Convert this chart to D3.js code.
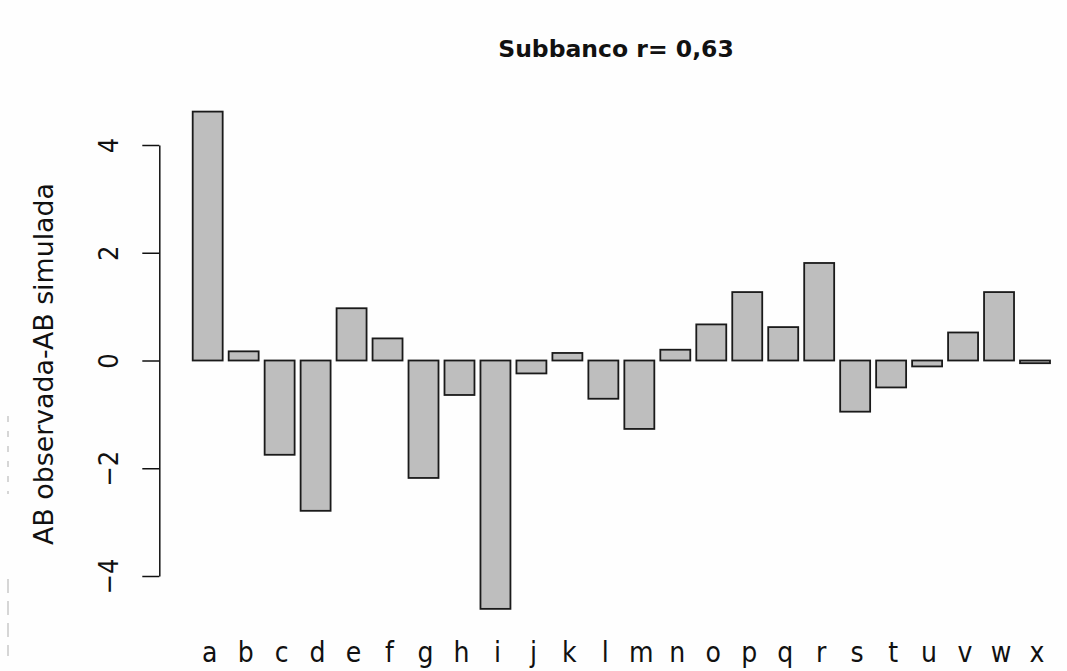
<!DOCTYPE html>
<html>
<head>
<meta charset="utf-8">
<script src="https://cdn.jsdelivr.net/npm/d3@7"></script>
<style>
  html, body { margin: 0; padding: 0; background: #fefefe; }
  svg { display: block; }
  .lbl { font-family: "Liberation Sans Narrow", "DejaVu Sans Condensed", "Roboto", sans-serif; fill: #111; }
</style>
</head>
<body>
<svg id="chart" width="1067" height="671"></svg>
<script>
// Observed minus simulated AB, one bar per category
const categories = ["a","b","c","d","e","f","g","h","i","j","k","l","m","n","o","p","q","r","s","t","u","v","w","x"];
const differences = [4.62, 0.17, -1.75, -2.79, 0.97, 0.41, -2.18, -0.64, -4.61, -0.24, 0.14, -0.71,
                     -1.27, 0.20, 0.67, 1.27, 0.62, 1.81, -0.95, -0.50, -0.11, 0.52, 1.27, -0.05];
const yTicks = [-4, -2, 0, 2, 4];
const titleText = "Subbanco r= 0,63";
const yTitle = "AB observada-AB simulada";

const svg = d3.select("#chart");

const x = d3.scaleBand()
  .domain(categories)
  .range([192.7, 1050])
  .paddingInner(0.2 / 1.2)
  .paddingOuter(0);

const y = d3.scaleLinear()
  .domain([-4, 4])
  .range([576, 145]);

// faint dashed stroke along the left edge
const edge = svg.append("g").attr("stroke", "#bbb").attr("stroke-width", 1.2);
edge.append("line").attr("x1", 8).attr("x2", 8).attr("y1", 416).attr("y2", 494)
  .attr("stroke-dasharray", "6 9");
edge.append("line").attr("x1", 8).attr("x2", 8).attr("y1", 579).attr("y2", 656)
  .attr("stroke-dasharray", "14 8");

// bars
svg.append("g")
  .selectAll("rect")
  .data(differences)
  .join("rect")
  .attr("x", (d, i) => x(categories[i]))
  .attr("width", x.bandwidth())
  .attr("y", d => Math.min(y(d), y(0)))
  .attr("height", d => Math.max(Math.abs(y(d) - y(0)), 1.5))
  .attr("fill", "#bebebe")
  .attr("stroke", "#1a1a1a")
  .attr("stroke-width", 1.8);

// y axis
const yAxis = svg.append("g")
  .attr("transform", "translate(159.3,0)")
  .call(d3.axisLeft(y).tickValues(yTicks).tickSize(17).tickSizeOuter(0)
    .tickFormat(d => d < 0 ? "\u2212" + Math.abs(d) : d));
yAxis.select(".domain").attr("stroke", "#111").attr("stroke-width", 1.5);
yAxis.selectAll(".tick line").attr("stroke", "#111").attr("stroke-width", 1.5);
yAxis.selectAll(".tick text")
  .attr("class", "lbl")
  .attr("x", null).attr("dy", null)
  .attr("text-anchor", "middle")
  .attr("transform", "translate(-51,0) rotate(-90)")
  .attr("dominant-baseline", "central")
  .style("font-size", "27px");

// category labels
svg.append("g")
  .selectAll("text")
  .data(categories)
  .join("text")
  .attr("class", "lbl")
  .attr("x", d => x(d) + x.bandwidth() / 2 + 2)
  .attr("y", 662)
  .attr("text-anchor", "middle")
  .style("font-size", "28px")
  .text(d => d);

// axis title
svg.append("text")
  .attr("class", "lbl")
  .attr("transform", "translate(53,364) rotate(-90)")
  .attr("text-anchor", "middle")
  .attr("textLength", 362)
  .attr("lengthAdjust", "spacingAndGlyphs")
  .style("font-size", "27px")
  .text(yTitle);

// chart title
svg.append("text")
  .attr("x", 616)
  .attr("y", 57)
  .attr("text-anchor", "middle")
  .style("font-family", "'DejaVu Sans', Verdana, sans-serif")
  .style("font-weight", "bold")
  .style("font-size", "23.5px")
  .attr("fill", "#111")
  .text(titleText);
</script>
</body>
</html>
